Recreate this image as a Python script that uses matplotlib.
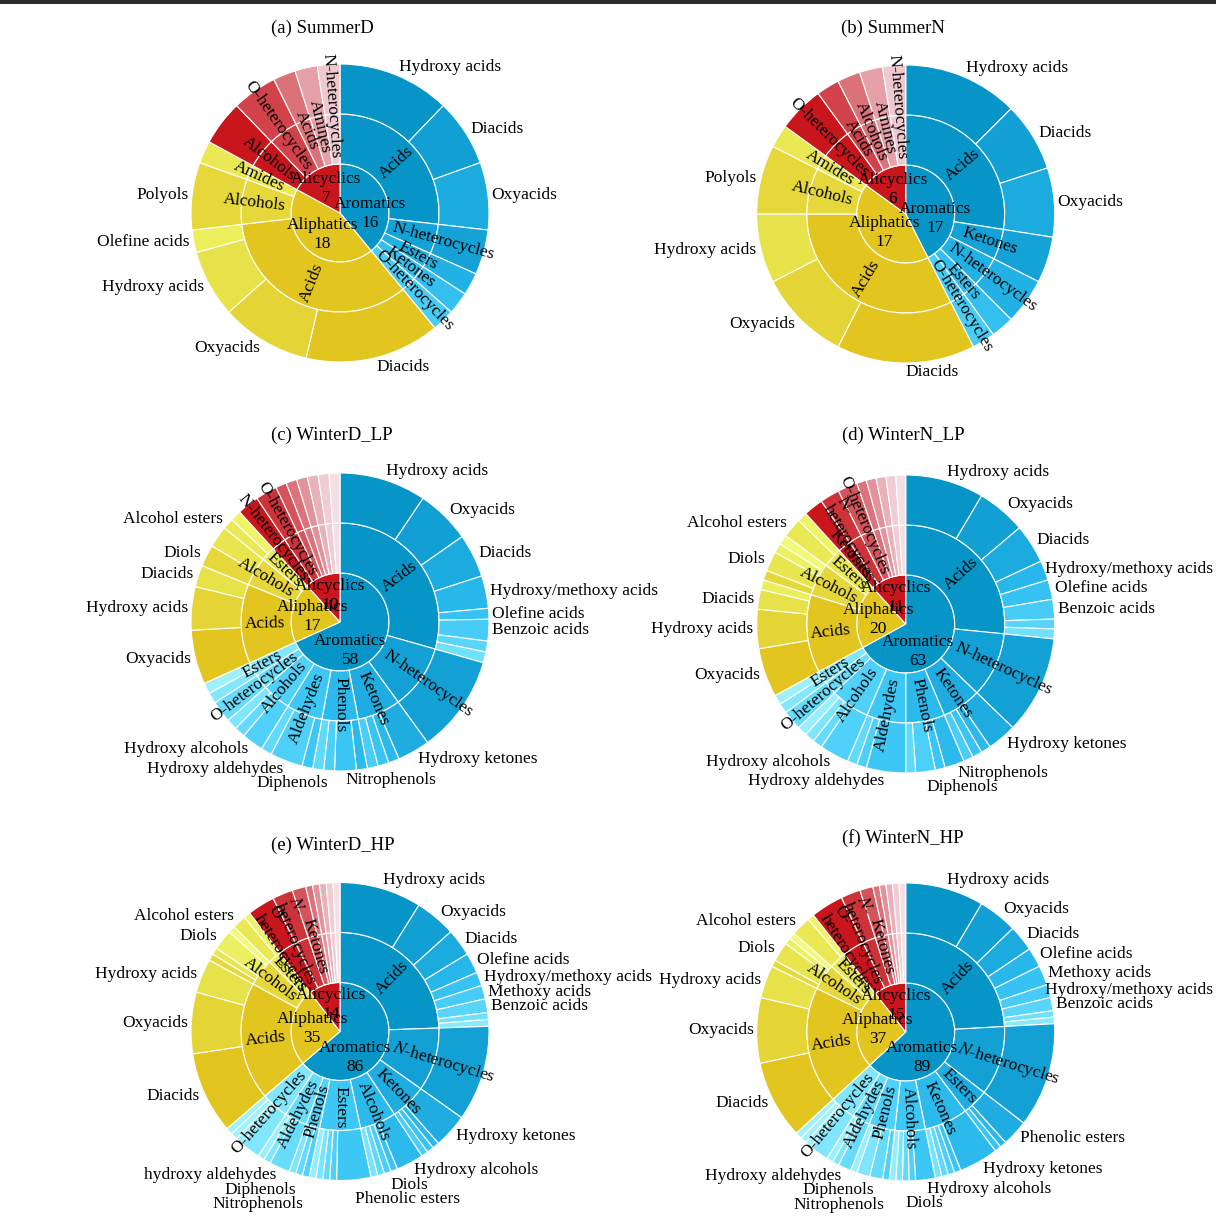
import numpy as np
import matplotlib.pyplot as plt
from matplotlib.patches import Wedge, Rectangle
from matplotlib.colors import LinearSegmentedColormap

plt.rcParams['font.family'] = ['Liberation Serif', 'DejaVu Serif']
plt.rcParams['mathtext.fontset'] = 'stix'

groups = ["Aromatics", "Aliphatics", "Alicyclics"]

# (a) SummerD
a_inner_n = [16, 18, 7]
a_mid = ["Acids", "N-heterocycles", "Esters", "Ketones", "O-heterocycles",
         "Acids", "Alcohols", "Amides",
         "Alcohols", "O-heterocycles", "Acids", "Amines", "N-heterocycles"]
a_mid_n = [11, 2, 1, 1, 1, 14, 3, 1, 2, 2, 1, 1, 1]
a_outer = ["Hydroxy acids", "Diacids", "Oxyacids", "", "", "", "",
           "Diacids", "Oxyacids", "Hydroxy acids", "Olefine acids", "Polyols", "",
           "", "", "", "", ""]
a_outer_n = [5, 3, 3, 2, 1, 1, 1, 6, 4, 3, 1, 3, 1, 2, 2, 1, 1, 1]

# (b) SummerN
b_inner_n = [17, 17, 6]
b_mid = ["Acids", "Ketones", "N-heterocycles", "Esters", "O-heterocycles",
         "Acids", "Alcohols", "Amides",
         "O-heterocycles", "Acids", "Alcohols", "Amines", "N-heterocycles"]
b_mid_n = [11, 2, 2, 1, 1, 13, 3, 1, 2, 1, 1, 1, 1]
b_outer = ["Hydroxy acids", "Diacids", "Oxyacids", "", "", "", "",
           "Diacids", "Oxyacids", "Hydroxy acids", "Polyols", "",
           "", "", "", "", ""]
b_outer_n = [5, 3, 3, 2, 2, 1, 1, 6, 4, 3, 3, 1, 2, 1, 1, 1, 1]

# (c) WinterD_LP
c_inner_n = [58, 17, 10]
c_mid = ["Acids", "N-heterocycles", "Ketones", "Phenols", "Aldehydes", "Alcohols",
         "O-heterocycles", "Esters",
         "Acids", "Alcohols", "Esters",
         "N-heterocycles", "O-heterocycles", "", "", "", "", "", ""]
c_mid_n = [25, 9, 6, 5, 5, 4, 2, 2, 11, 4, 2, 2, 2, 1, 1, 1, 1, 1, 1]
c_outer = ["Hydroxy acids", "Oxyacids", "Diacids", "Hydroxy/methoxy acids", "Olefine acids",
           "Benzoic acids", "", "",
           "",
           "Hydroxy ketones", "", "", "",
           "", "Nitrophenols", "Diphenols", "",
           "", "Hydroxy aldehydes", "",
           "Hydroxy alcohols", "", "",
           "",
           "", "",
           "Oxyacids", "Hydroxy acids", "Diacids",
           "Diols", "",
           "Alcohol esters", "",
           "", "", "", "", "", "", "", ""]
c_outer_n = [8, 5, 4, 3, 1, 2, 1, 1,
             9,
             3, 1, 1, 1,
             1, 2, 1, 1,
             1, 3, 1,
             2, 1, 1,
             2,
             1, 1,
             5, 4, 2,
             2, 2,
             1, 1,
             2, 2, 1, 1, 1, 1, 1, 1]

# (d) WinterN_LP
d_inner_n = [63, 20, 11]
d_mid = ["Acids", "N-heterocycles", "Ketones", "Phenols", "Aldehydes", "Alcohols",
         "O-heterocycles", "Esters",
         "Acids", "Alcohols", "Esters",
         "Ketones", "N-\nheterocycles", "O-heterocycles", "", "", "", "", ""]
d_mid_n = [25, 10, 6, 6, 6, 6, 2, 2, 12, 5, 3, 2, 2, 2, 1, 1, 1, 1, 1]
d_outer = ["Hydroxy acids", "Oxyacids", "Diacids", "Hydroxy/methoxy acids", "Olefine acids",
           "Benzoic acids", "", "",
           "",
           "Hydroxy ketones", "", "", "",
           "Nitrophenols", "", "Diphenols", "",
           "Hydroxy aldehydes", "", "",
           "Hydroxy alcohols", "", "", "",
           "",
           "", "",
           "Oxyacids", "Hydroxy acids", "Diacids", "",
           "", "Diols", "", "",
           "Alcohol esters", "",
           "", "", "", "", "", "", "", ""]
d_outer_n = [8, 5, 4, 2, 2, 2, 1, 1,
             10,
             3, 1, 1, 1,
             2, 1, 2, 1,
             4, 1, 1,
             3, 1, 1, 1,
             2,
             1, 1,
             5, 4, 2, 1,
             1, 2, 1, 1,
             2, 1,
             2, 2, 2, 1, 1, 1, 1, 1]

# (e) WinterD_HP
e_inner_n = [86, 35, 14]
e_mid = ["Acids", "$N$-heterocycles", "Ketones", "Alcohols", "Esters", "Phenols",
         "Aldehydes", "O-heterocycles",
         "Acids", "Alcohols", "Esters",
         "O-\nheterocycles", "$N$-\nheterocycles", "Ketones", "", "", "", "", ""]
e_mid_n = [33, 14, 8, 8, 9, 3, 5, 6, 26, 6, 3, 4, 3, 2, 1, 1, 1, 1, 1]
e_outer = ["Hydroxy acids", "Oxyacids", "Diacids", "Olefine acids", "Hydroxy/methoxy acids",
           "Methoxy acids", "Benzoic acids", "", "",
           "",
           "Hydroxy ketones", "", "", "",
           "Hydroxy alcohols", "", "Diols", "", "",
           "Phenolic esters", "", "", "", "",
           "Nitrophenols", "Diphenols", "",
           "hydroxy aldehydes", "", "",
           "", "", "", "",
           "Diacids", "Oxyacids", "Hydroxy acids",
           "", "", "Diols", "",
           "Alcohol esters", "",
           "", "", "", "", "", "", "", ""]
e_outer_n = [12, 6, 4, 3, 2, 2, 2, 1, 1,
             14,
             5, 1, 1, 1,
             4, 1, 1, 1, 1,
             5, 1, 1, 1, 1,
             1, 1, 1,
             3, 1, 1,
             3, 1, 1, 1,
             12, 9, 5,
             1, 1, 3, 1,
             2, 1,
             4, 3, 2, 1, 1, 1, 1, 1]

# (f) WinterN_HP
f_inner_n = [89, 37, 15]
f_mid = ["Acids", "$N$-heterocycles", "Esters", "Ketones", "Alcohols", "Phenols",
         "Aldehydes", "O-heterocycles",
         "Acids", "Alcohols", "Esters",
         "O-\nheterocycles", "$N$-\nheterocycles", "Ketones", "", "", "", "", ""]
f_mid_n = [34, 16, 6, 10, 7, 6, 4, 6, 27, 6, 4, 5, 3, 2, 1, 1, 1, 1, 1]
f_outer = ["Hydroxy acids", "Oxyacids", "Diacids", "Olefine acids", "Methoxy acids",
           "Hydroxy/methoxy acids", "Benzoic acids", "", "",
           "",
           "Phenolic esters", "", "",
           "Hydroxy ketones", "", "", "", "",
           "Hydroxy alcohols", "", "Diols", "", "",
           "Nitrophenols", "Diphenols", "", "",
           "Hydroxy aldehydes", "", "",
           "", "", "", "",
           "Diacids", "Oxyacids", "Hydroxy acids",
           "", "Diols", "", "",
           "Alcohol esters", "",
           "", "", "", "", "", "", "", ""]
f_outer_n = [12, 6, 4, 3, 3, 2, 2, 1, 1,
             16,
             4, 1, 1,
             6, 1, 1, 1, 1,
             3, 1, 1, 1, 1,
             1, 2, 2, 1,
             2, 1, 1,
             3, 1, 1, 1,
             12, 10, 5,
             1, 3, 1, 1,
             3, 1,
             5, 3, 2, 1, 1, 1, 1, 1]

W, H = 1216, 1218
R1, R2, R3 = 49, 99, 149
FS = 12.5

cmaps = {
    "Aromatics": LinearSegmentedColormap.from_list(
        "blu", ["#0795c8", "#17a5da", "#28b7ea", "#3ec8f6", "#5ad6fa", "#7ee6fc", "#a8f4fd"]),
    "Aliphatics": LinearSegmentedColormap.from_list(
        "yel", ["#e3c520", "#e5d436", "#e7e24a", "#ecef5c", "#f0f86e", "#f4fc8c"]),
    "Alicyclics": LinearSegmentedColormap.from_list(
        "red", ["#c9151c", "#d03a42", "#d8626a", "#e08992", "#e8afb7", "#f0d0d6", "#f6e6ea"]),
}
mid_step = {"Aromatics": (0.14, 0.85), "Aliphatics": (0.25, 0.8), "Alicyclics": (0.2, 0.95)}
child_step = {"Aromatics": 0.11, "Aliphatics": 0.2, "Alicyclics": 0.15}

fig = plt.figure(figsize=(W / 100, H / 100), dpi=100)
ax = fig.add_axes([0, 0, 1, 1])
ax.set_xlim(0, W)
ax.set_ylim(0, H)
ax.axis('off')
renderer = fig.canvas.get_renderer()

ax.add_patch(Rectangle((0, H - 4), W, 4, color="#2b2b2b", lw=0))


def xy(cx, cy, r, a):
    t = np.radians(a)
    return cx + r * np.sin(t), cy + r * np.cos(t)


def text_width(s, fs):
    t = ax.text(0, 0, s, fontsize=fs)
    w = t.get_window_extent(renderer).width
    t.remove()
    return w


def edges(counts, total):
    e = np.concatenate([[0], np.cumsum(counts)]) / total * 360.0
    return e[:-1], e[1:]


def parents(child_n, parent_n):
    starts = np.cumsum([0] + list(child_n))[:-1]
    pe = np.cumsum(parent_n)
    return [int(np.searchsorted(pe, s, side='right')) for s in starts]


def wedge(cx, cy, r, a1, a2, width, color):
    ax.add_patch(Wedge((cx, cy), r, 90 - a2, 90 - a1, width=width,
                       facecolor=color, edgecolor='white', lw=0.8))


def sunburst(title, tpos, center, inner_n, mid, mid_n, outer, outer_n):
    cx, cy = center[0], H - center[1]
    total = float(sum(inner_n))
    i1, i2 = edges(inner_n, total)
    m1, m2 = edges(mid_n, total)
    o1, o2 = edges(outer_n, total)
    mp = parents(mid_n, inner_n)
    op = parents(outer_n, mid_n)

    # colours of middle ring: lighter along each group
    mid_t = []
    for k in range(len(mid)):
        g = groups[mp[k]]
        same = [i for i in range(len(mid)) if mp[i] == mp[k]]
        n = len(same)
        step, tmax = mid_step[g]
        st = min(step, tmax / (n - 1)) if n > 1 else 0
        mid_t.append(same.index(k) * st)

    for k, g in enumerate(groups):
        wedge(cx, cy, R1, i1[k], i2[k], None, cmaps[g](0.0))
    for k in range(len(mid)):
        wedge(cx, cy, R2, m1[k], m2[k], R2 - R1, cmaps[groups[mp[k]]](mid_t[k]))
    for k in range(len(outer)):
        m = op[k]
        sib = [i for i in range(len(outer)) if op[i] == m]
        t = min(mid_t[m] + sib.index(k) * child_step[groups[mp[m]]], 0.97)
        wedge(cx, cy, R3, o1[k], o2[k], R3 - R2, cmaps[groups[mp[m]]](t))

    # inner labels
    for k, g in enumerate(groups):
        span = i2[k] - i1[k]
        a = (i1[k] + i2[k]) / 2
        r = 28
        if i1[k] == 0:
            a += 0.15 * span
            r = 30
        x, y = xy(cx, cy, r, a)
        ax.text(x, y, f"{g}\n{inner_n[k]}", ha='center', va='center', fontsize=FS,
                linespacing=1.25)

    # middle labels (radial)
    for k, lab in enumerate(mid):
        if not lab:
            continue
        a = (m1[k] + m2[k]) / 2
        L = text_width(lab, FS)
        kids = [outer[i] for i in range(len(outer)) if op[i] == k]
        r = max((R1 + R2) / 2, R1 + 6 + L / 2)
        if not any(kids):
            r = max(r, 89)
        rot = (90 - a) % 360
        if rot > 180:
            rot -= 360
        if rot > 90:
            rot -= 180
        elif rot < -90:
            rot += 180
        x, y = xy(cx, cy, r, a)
        ax.text(x, y, lab, ha='center', va='center', fontsize=FS, rotation=rot,
                rotation_mode='anchor', linespacing=1.0, multialignment='left')

    # outer labels outside the circle, spread to avoid overlap
    sides = {'left': [], 'right': []}
    for k, lab in enumerate(outer):
        if not lab:
            continue
        a = (o1[k] + o2[k]) / 2
        c = np.cos(np.radians(a))
        ha = 'left' if np.sin(np.radians(a)) >= 0 else 'right'
        x, y = xy(cx, cy, R3 + 3 + 6 * abs(c), a)
        L = text_width(lab, FS)
        if ha == 'left':
            x = min(x, W - 3 - L)
        else:
            x = max(x, 3 + L)
        sides[ha].append([y, x, lab])
    for ha, items in sides.items():
        items.sort(key=lambda v: -v[0])
        for i in range(1, len(items)):
            if items[i][0] > items[i - 1][0] - 14.5:
                items[i][0] = items[i - 1][0] - 14.5
        for y, x, lab in items:
            ax.text(x, y, lab, ha=ha, va='center', fontsize=FS)

    ax.text(tpos[0], H - tpos[1], title, ha='center', va='center', fontsize=13.5)


sunburst("(a) SummerD", (322, 28), (340, 213), a_inner_n, a_mid, a_mid_n, a_outer, a_outer_n)
sunburst("(b) SummerN", (893, 28), (905.7, 214), b_inner_n, b_mid, b_mid_n, b_outer, b_outer_n)
sunburst("(c) WinterD_LP", (332, 435), (340, 622), c_inner_n, c_mid, c_mid_n, c_outer, c_outer_n)
sunburst("(d) WinterN_LP", (903, 435), (905.7, 624), d_inner_n, d_mid, d_mid_n, d_outer, d_outer_n)
sunburst("(e) WinterD_HP", (333, 845), (340, 1031.5), e_inner_n, e_mid, e_mid_n, e_outer, e_outer_n)
sunburst("(f) WinterN_HP", (903, 838), (905.7, 1032), f_inner_n, f_mid, f_mid_n, f_outer, f_outer_n)

fig.savefig("out.png", dpi=100)
